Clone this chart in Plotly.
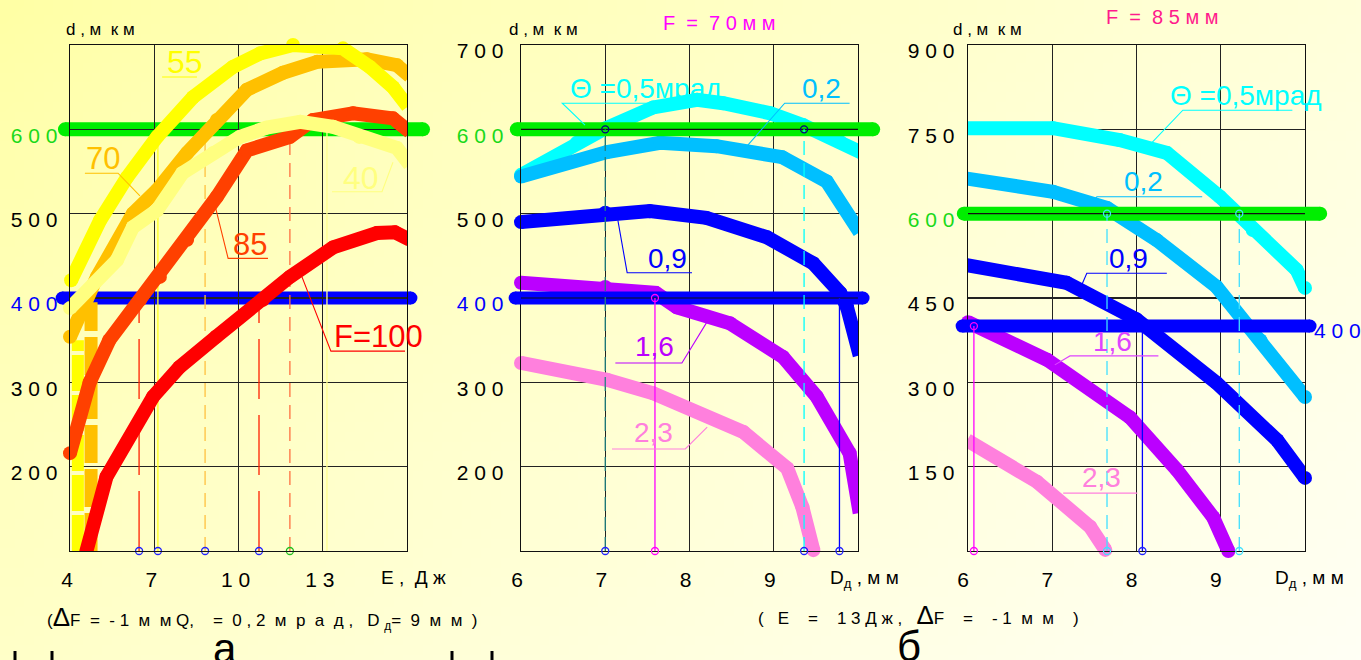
import base64
import struct
import zlib

import plotly.graph_objects as go

W, H = 1361, 660
FONT = "Liberation Sans, Arial, sans-serif"

# ---------------- Panel а : d (мкм) vs E (Дж), curves for F (мм) ----------------
a_E_55 = [4.04, 5.07, 6.03, 7.1, 8.38, 9.8, 10.77, 11.94, 13.72, 14.68, 15.5, 16.03]
a_d_55 = [421, 492, 543, 591, 638, 674, 690, 700, 696, 674, 650, 627]
a_E_70 = [4.0, 4.96, 6.24, 7.1, 8.17, 9.23, 10.3, 11.58, 12.8, 14.57, 15.64, 16.1]
a_d_70 = [354, 425, 500, 528, 572, 611, 647, 667, 680, 683, 676, 663]
a_E_40 = [4.0, 5.67, 6.24, 7.1, 8.0, 9.1, 10.05, 11.0, 12.2, 13.37, 14.3, 15.64, 16.1]
a_d_40 = [388, 445, 484, 504, 548, 572, 591, 602, 609, 603, 591, 578, 558]
a_E_85 = [4.0, 4.7, 5.4, 6.5, 7.2, 8.17, 9.23, 10.3, 11.83, 12.65, 14.08, 15.5, 16.1]
a_d_85 = [216, 300, 350, 398, 425, 469, 520, 575, 591, 611, 619, 613, 597]
a_E_100 = [4.57, 5.3, 6.96, 7.9, 9.2, 10.87, 11.83, 13.37, 14.93, 15.57, 16.1]
a_d_100 = [98, 188, 283, 318, 354, 398, 425, 460, 477, 478, 469]
# steep low-energy branches (F=55, F=70)
a_drop_E = [4.28, 4.75]
a_drop_top = [350, 395]
a_d_min = 100
# marked intersection energies and their levels
a_mark_E = [6.46, 7.13, 8.81, 10.73, 11.83, 13.15]
a_mark_d = [400, 600, 600, 400, 600, 600]

# ---------------- Panel б (F = 70 мм) : d vs Dд, curves for Θ (мрад) ----------------
b_x_05 = [6.0, 6.66, 7.0, 7.57, 8.09, 8.4, 8.96, 9.35, 9.79, 10.05]
b_y_05 = [546, 584, 601, 626, 635, 631, 619, 605, 585, 572]
b_x_02 = [6.0, 7.02, 7.65, 8.32, 9.1, 9.63, 10.02]
b_y_02 = [544, 573, 584, 580, 567, 538, 478]
b_x_09 = [6.0, 7.0, 7.53, 8.2, 8.92, 9.47, 9.79, 9.87, 10.02]
b_y_09 = [490, 501, 503, 495, 472, 441, 406, 389, 332]
b_x_16 = [6.0, 7.0, 7.6, 7.85, 8.48, 9.11, 9.51, 9.9, 10.02]
b_y_16 = [418, 413, 406, 389, 370, 330, 283, 216, 145]
b_x_23 = [6.0, 7.02, 7.57, 8.64, 9.16, 9.34, 9.47]
b_y_23 = [323, 303, 287, 241, 198, 152, 101]
b_d_min = 100
b_mark_x = [7.0, 7.59, 9.36, 9.78]
b_mark_y = [600, 400, 600, 400]

# ---------------- Panel в (F = 85 мм) ----------------
c_x_05 = [5.96, 7.01, 7.8, 8.36, 8.99, 9.38, 9.9, 10.0]
c_y_05 = [752, 752, 731, 708, 630, 571, 500, 468]
c_x_02 = [5.96, 7.01, 7.65, 8.24, 8.95, 9.47, 10.0]
c_y_02 = [663, 639, 610, 553, 470, 375, 274]
c_x_09 = [5.96, 7.17, 8.0, 8.95, 9.67, 10.0]
c_y_09 = [509, 477, 412, 299, 197, 130]
c_x_16 = [6.0, 6.94, 7.92, 8.48, 8.91, 9.09]
c_y_16 = [407, 340, 238, 144, 60, 0]
c_x_23 = [5.99, 6.82, 7.45, 7.63]
c_y_23 = [197, 123, 43, 2]
c_d_min = 0
c_mark_x = [6.07, 7.65, 8.07, 9.22]
c_mark_y = [400, 600, 400, 600]

# reference levels (мкм)
REF_GREEN = 600
REF_BLUE = 400

# tick labels
a_xticks, a_xtext = [4, 7, 10, 13], ["4", "7", "1 0", "1 3"]
a_yticks = [200, 300, 400, 500, 600]
b_xticks, b_xtext = [6, 7, 8, 9], ["6", "7", "8", "9"]
b_yticks = [200, 300, 400, 500, 600, 700]
c_xticks, c_xtext = [6, 7, 8, 9], ["6", "7", "8", "9"]
c_yticks = [150, 300, 450, 600, 750, 900]

GREEN_TXT = "#19D919"
BLUE_TXT = "#0000FF"


def ytext(vals):
    out = []
    for v in vals:
        s = " ".join(str(v))
        if v == 600:
            s = f"<span style='color:{GREEN_TXT}'>{s}</span>"
        elif v == 400:
            s = f"<span style='color:{BLUE_TXT}'>{s}</span>"
        out.append(s)
    return out


# ---------------- background gradient image ----------------
def gradient_png(w, h):
    rows = []
    for j in range(h):
        row = bytearray([0])
        for i in range(w):
            t = 0.62 * i / (w - 1) + 0.38 * j / (h - 1)
            t = min(1.0, max(0.0, t)) ** 0.85
            b = int(165 + 80 * t)
            row += bytes([255, 255, b])
        rows.append(bytes(row))
    raw = b"".join(rows)

    def chunk(tag, data):
        c = struct.pack(">I", len(data)) + tag + data
        return c + struct.pack(">I", zlib.crc32(tag + data) & 0xFFFFFFFF)

    png = (b"\x89PNG\r\n\x1a\n"
           + chunk(b"IHDR", struct.pack(">IIBBBBB", w, h, 8, 2, 0, 0, 0))
           + chunk(b"IDAT", zlib.compress(raw, 9))
           + chunk(b"IEND", b""))
    return "data:image/png;base64," + base64.b64encode(png).decode()


# ---------------- layout geometry ----------------
def px_x(px):
    return px / W


def px_y(py):
    return 1 - py / H


Y_DOM = [px_y(551), px_y(45)]
PANELS = {"a": (70, 407, 4, 16), "b": (521, 858, 6, 10), "c": (968, 1305, 6, 10)}


def overlay_range(panel, px0, px1):
    p0, p1, v0, v1 = PANELS[panel]
    k = (v1 - v0) / (p1 - p0)
    return [v0 + (px0 - p0) * k, v0 + (px1 - p0) * k]


def x_to_paper(panel, v):
    p0, p1, v0, v1 = PANELS[panel]
    return px_x(p0 + (v - v0) / (v1 - v0) * (p1 - p0))


fig = go.Figure()


def curve(x, y, color, xa, ya, width=14):
    fig.add_trace(go.Scatter(
        x=x, y=y, mode="lines+markers", xaxis=xa, yaxis=ya,
        line=dict(color=color, width=width),
        marker=dict(size=width, color=color, line=dict(width=0)),
        cliponaxis=False, hoverinfo="skip", showlegend=False))


def thin(x, y, color, xa, ya, dash="solid", width=1.4):
    fig.add_trace(go.Scatter(
        x=x, y=y, mode="lines", xaxis=xa, yaxis=ya,
        line=dict(color=color, width=width, dash=dash),
        cliponaxis=False, hoverinfo="skip", showlegend=False))


def rings(x, y, color, xa, ya):
    fig.add_trace(go.Scatter(
        x=x, y=y, mode="markers", xaxis=xa, yaxis=ya,
        marker=dict(symbol="circle-open", size=7, color=color, line=dict(width=1.3)),
        cliponaxis=False, hoverinfo="skip", showlegend=False))


# ----- panel а traces -----
thin([a_drop_E[0]] * 2, [a_d_min, a_drop_top[0]], "#FFFF00", "x", "y", dash="36px,4px", width=12)
thin([a_drop_E[1]] * 2, [a_d_min, a_drop_top[1]], "#FFC000", "x", "y", dash="38px,6px", width=13)
a_styles = [("#FF2000", "60px,16px"), ("#FFFF20", "solid"), ("#FFC040", "14px,8px"),
            ("#FF2000", "60px,16px"), ("#FF7040", "14px,8px"), ("#FFFF90", "solid")]
for e, d, (col, dsh) in zip(a_mark_E, a_mark_d, a_styles):
    thin([e, e], [a_d_min, d], col, "x", "y", dash=dsh, width=1.3)
curve(a_E_100, a_d_100, "#FF0000", "x", "y")
curve(a_E_85, a_d_85, "#FF4000", "x", "y")
curve(a_E_70, a_d_70, "#FFC000", "x", "y")
curve(a_E_55, a_d_55, "#FFFF00", "x", "y")
curve(a_E_40, a_d_40, "#FFFF80", "x", "y")
ring_cols_a = ["#2020FF", "#2020FF", "#2020FF", "#2020FF", "#20C020"]
rings(a_mark_E[:5], [a_d_min] * 5, ring_cols_a, "x", "y")

# ----- panel б traces -----
curve(b_x_05, b_y_05, "#00FFFF", "x2", "y2")
curve(b_x_02, b_y_02, "#00BFFF", "x2", "y2")
curve(b_x_09, b_y_09, "#0000FF", "x2", "y2")
curve(b_x_16, b_y_16, "#BB00FF", "x2", "y2")
curve(b_x_23, b_y_23, "#FF80DD", "x2", "y2")

# ----- panel в traces -----
curve(c_x_05, c_y_05, "#00FFFF", "x3", "y3")
curve(c_x_02, c_y_02, "#00BFFF", "x3", "y3")
curve(c_x_09, c_y_09, "#0000FF", "x3", "y3")
curve(c_x_16, c_y_16, "#BB00FF", "x3", "y3")
curve(c_x_23, c_y_23, "#FF80DD", "x3", "y3")

# ----- overlay for б: reference lines above curves, markers -----
curve([5.95, 10.18], [REF_GREEN] * 2, "#00EE00", "x4", "y4")
curve([5.93, 10.06], [REF_BLUE] * 2, "#0000FF", "x4", "y4", width=13)
thin([6, 10], [REF_GREEN] * 2, "#111111", "x4", "y4", width=1.2)
thin([6, 10], [REF_BLUE] * 2, "#111111", "x4", "y4", width=1.2)
b_styles = [("#208080", "14px,6px"), ("#FF00FF", "solid"), ("#00FFFF", "14px,8px"), ("#0000FF", "solid")]
for xv, yv, (col, dsh) in zip(b_mark_x, b_mark_y, b_styles):
    thin([xv, xv], [b_d_min, yv], col, "x4", "y4", dash=dsh, width=1.3)
rings(b_mark_x, [b_d_min] * 4, ["#2020FF", "#FF00FF", "#2020FF", "#2020FF"], "x4", "y4")
rings(b_mark_x[:3], b_mark_y[:3], ["#000080", "#FF00FF", "#000080"], "x4", "y4")

# ----- overlay for в -----
curve([5.95, 10.18], [REF_GREEN] * 2, "#00EE00", "x5", "y5")
curve([5.93, 10.06], [REF_BLUE] * 2, "#0000FF", "x5", "y5", width=13)
thin([6, 10], [REF_GREEN] * 2, "#111111", "x5", "y5", width=1.2)
c_styles = [("#FF00FF", "solid"), ("#40E0FF", "14px,8px"), ("#0000FF", "solid"), ("#40E0FF", "14px,8px")]
for xv, yv, (col, dsh) in zip(c_mark_x, c_mark_y, c_styles):
    thin([xv, xv], [c_d_min, yv], col, "x5", "y5", dash=dsh, width=1.3)
rings(c_mark_x, [c_d_min] * 4, ["#FF00FF", "#40E0FF", "#2020FF", "#40E0FF"], "x5", "y5")
rings([c_mark_x[0], c_mark_x[1], c_mark_x[3]], [c_mark_y[0], c_mark_y[1], c_mark_y[3]],
      ["#FF00FF", "#40E0FF", "#40E0FF"], "x5", "y5")

# ---------------- shapes ----------------
shapes = []
# panel а reference lines (under the grid)
for lvl, span, col, wd in [(REF_GREEN, (3.82, 16.57), "#00EE00", 14), (REF_BLUE, (3.72, 16.14), "#0000FF", 13)]:
    x0, x1 = x_to_paper("a", span[0]), x_to_paper("a", span[1])
    shapes.append(dict(type="line", xref="paper", yref="y", x0=x0, x1=x1, y0=lvl, y1=lvl,
                       line=dict(color=col, width=wd), layer="below"))
    for xc in (x0, x1):
        shapes.append(dict(type="circle", xref="paper", yref="y", xsizemode="pixel", ysizemode="pixel",
                           xanchor=xc, yanchor=lvl, x0=-wd / 2, x1=wd / 2, y0=-wd / 2, y1=wd / 2,
                           fillcolor=col, line=dict(width=0), layer="below"))


def leader(pts, color, xr, yr, width=1.1):
    path = "M " + " L ".join(f"{x},{y}" for x, y in pts)
    shapes.append(dict(type="path", path=path, xref=xr, yref=yr, line=dict(color=color, width=width)))


# labels: (text, x, y, colour, size, leader points)
labels_a = [
    ("55", 8.10, 680, "#FFFF00", 32, [(7.28, 662), (8.52, 662)]),
    ("70", 5.18, 566, "#FFC000", 31, [(4.53, 548), (5.71, 548), (6.49, 521)]),
    ("85", 10.41, 464, "#FF4000", 31, [(11.05, 447), (9.63, 447), (9.16, 510)]),
    ("40", 14.36, 542, "#FFFF80", 32, [(13.33, 526), (15.11, 526), (15.50, 561)]),
    ("F=100", 14.97, 354, "#FF0000", 31, [(15.93, 337), (13.29, 337), (12.26, 425)]),
]
labels_b = [
    ("Θ =0,5мрад", 7.48, 649, "#00FFFF", 28, [(8.46, 631), (6.49, 631), (6.76, 605)]),
    ("0,2", 9.57, 649, "#00BFFF", 28, [(9.90, 631), (9.13, 631), (8.69, 581)]),
    ("0,9", 7.74, 447, "#0000FF", 28, [(8.03, 430), (7.26, 430), (7.15, 492)]),
    ("1,6", 7.59, 342, "#BB00FF", 28, [(7.12, 323), (7.91, 323), (8.21, 372)]),
    ("2,3", 7.57, 240, "#FF80DD", 28, [(7.08, 221), (7.95, 221), (8.21, 247)]),
]
labels_c = [
    ("Θ =0,5мрад", 9.30, 811, "#00FFFF", 28, [(9.85, 784), (8.55, 784), (8.18, 726)]),
    ("0,2", 8.08, 658, "#00BFFF", 28, [(8.78, 630), (7.53, 630), (7.43, 615)]),
    ("0,9", 7.90, 521, "#0000FF", 28, [(8.36, 494), (7.41, 494), (7.35, 473)]),
    ("1,6", 7.72, 372, "#DD44FF", 28, [(8.26, 347), (7.21, 347), (7.03, 331)]),
    ("2,3", 7.59, 130, "#FF80DD", 28, [(8.01, 103), (7.13, 103)]),
]

annotations = []
for labels, xr, yr in [(labels_a, "x", "y"), (labels_b, "x2", "y2"), (labels_c, "x3", "y3")]:
    for text, lx, ly, col, sz, pts in labels:
        annotations.append(dict(text=text, x=lx, y=ly, xref=xr, yref=yr, showarrow=False,
                                font=dict(family=FONT, size=sz, color=col),
                                xanchor="center", yanchor="middle"))
        leader(pts, col, xr, yr)


def note(text, px, py, size=17, color="black", xanchor="center"):
    annotations.append(dict(text=text, x=px_x(px), y=px_y(py), xref="paper", yref="paper",
                            showarrow=False, xanchor=xanchor, yanchor="middle",
                            font=dict(family=FONT, size=size, color=color)))


note("d , м  к м", 100, 29)
note("d , м  к м", 543, 29)
note("d , м  к м", 988, 29)
note("F  =  7 0 м м", 720, 23, size=20, color="#FF00FF")
note("F  =  8 5 м м", 1162, 17, size=20, color="#FF1A8C")
note("Е ,  Д ж", 413, 577, size=19)
note("D<sub>д</sub> , м м", 864, 579, size=19)
note("D<sub>д</sub> , м м", 1309, 579, size=19)
note("4 0 0", 1337, 331, size=21, color=BLUE_TXT)
note("(<span style='font-size:26px'>Δ</span>F  =  - 1  м  м Q,    =  0 , 2  м  р  а  д ,   "
     "D <sub>д</sub>=  9  м  м  )", 262, 617, size=17)
note("(   Е    =    1 3 Д ж ,   <span style='font-size:26px'>Δ</span>F    =    - 1  м  м    )",
     918, 615, size=17)
note("а", 225, 648, size=42)
note("б", 909, 646, size=42)

for mx in (15, 52, 452, 492):
    shapes.append(dict(type="line", xref="paper", yref="paper", x0=px_x(mx), x1=px_x(mx),
                       y0=px_y(651), y1=px_y(660), line=dict(color="black", width=3)))


def axis_common():
    return dict(showline=True, mirror=True, linecolor="#111111", linewidth=1.4, automargin=False,
                showgrid=True, gridcolor="#222222", gridwidth=1.1, zeroline=False,
                ticks="", tickfont=dict(family=FONT, size=21, color="black"))


layout = dict(
    width=W, height=H, autosize=False,
    margin=dict(l=0, r=0, t=0, b=0, pad=0, autoexpand=False),
    paper_bgcolor="#FFFFE8", plot_bgcolor="rgba(0,0,0,0)",
    showlegend=False, font=dict(family=FONT),
    images=[dict(source=gradient_png(140, 68), xref="paper", yref="paper", x=0, y=1,
                 sizex=1, sizey=1, sizing="stretch", xanchor="left", yanchor="top", layer="below")],
    xaxis=dict(**axis_common(), domain=[px_x(70), px_x(407)], range=[4, 16], anchor="y",
               tickvals=a_xticks, ticktext=a_xtext, ticklabelstandoff=9, ticklabelshift=-3),
    yaxis=dict(**axis_common(), domain=Y_DOM, range=[100, 700], anchor="x",
               tickvals=a_yticks, ticktext=ytext(a_yticks), ticklabelstandoff=7, ticklabelshift=6),
    xaxis2=dict(**axis_common(), domain=[px_x(521), px_x(858)], range=[6, 10], anchor="y2",
                tickvals=b_xticks, ticktext=b_xtext, ticklabelstandoff=9, ticklabelshift=-4),
    yaxis2=dict(**axis_common(), domain=Y_DOM, range=[100, 700], anchor="x2",
                tickvals=b_yticks, ticktext=ytext(b_yticks), ticklabelstandoff=12, ticklabelshift=6),
    xaxis3=dict(**axis_common(), domain=[px_x(968), px_x(1305)], range=[6, 10], anchor="y3",
                tickvals=c_xticks, ticktext=c_xtext, ticklabelstandoff=9, ticklabelshift=-5),
    yaxis3=dict(**axis_common(), domain=Y_DOM, range=[0, 900], anchor="x3",
                tickvals=c_yticks, ticktext=ytext(c_yticks), ticklabelstandoff=8, ticklabelshift=6),
    xaxis4=dict(domain=[px_x(495), px_x(900)], range=overlay_range("b", 495, 900), anchor="y4",
                visible=False, automargin=False),
    yaxis4=dict(domain=Y_DOM, range=[100, 700], anchor="x4", visible=False, automargin=False),
    xaxis5=dict(domain=[px_x(940), px_x(1345)], range=overlay_range("c", 940, 1345), anchor="y5",
                visible=False, automargin=False),
    yaxis5=dict(domain=Y_DOM, range=[0, 900], anchor="x5", visible=False, automargin=False),
    shapes=shapes, annotations=annotations,
)
fig.update_layout(**layout)
fig.write_html("out.html", config={"displayModeBar": False, "staticPlot": True},
               post_script="document.body.style.margin='0';")
